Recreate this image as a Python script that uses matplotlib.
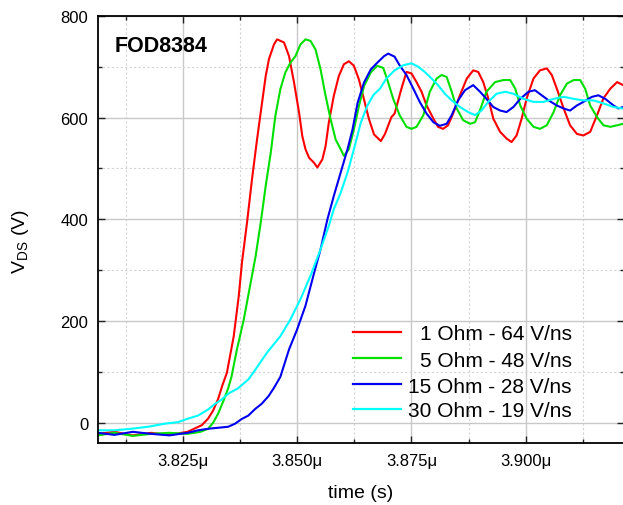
import matplotlib
matplotlib.use("Agg")
import matplotlib.pyplot as plt
from matplotlib.ticker import MultipleLocator, FuncFormatter

plt.rcParams['font.family'] = ['Liberation Sans', 'DejaVu Sans']
plt.rcParams['mathtext.fontset'] = 'custom'
plt.rcParams['mathtext.rm'] = 'Liberation Sans'
plt.rcParams['mathtext.it'] = 'Liberation Sans:italic'

# Drain-source voltage during turn-off, time in microseconds, voltage in volts
t_red = [3.8064, 3.810, 3.814, 3.818, 3.822, 3.826, 3.8291, 3.8305, 3.8316, 3.8327,
         3.8336, 3.8346, 3.8361, 3.8372, 3.8379, 3.8390, 3.8401, 3.8412, 3.8420, 3.8431,
         3.8438, 3.8449, 3.8456, 3.8471, 3.8482, 3.8493, 3.8504, 3.8511, 3.8518, 3.8526,
         3.8537, 3.8544, 3.8555, 3.8562, 3.8569, 3.8580, 3.8591, 3.8602, 3.8613, 3.8624,
         3.8635, 3.8646, 3.8657, 3.8668, 3.8683, 3.8692, 3.8706, 3.8713, 3.8728, 3.8739,
         3.8750, 3.8761, 3.8772, 3.8783, 3.8798, 3.8808, 3.8819, 3.8830, 3.8841, 3.8856,
         3.8871, 3.8885, 3.8896, 3.8907, 3.8918, 3.8929, 3.8944, 3.8958, 3.8969, 3.8980,
         3.8991, 3.9002, 3.9017, 3.9031, 3.9046, 3.9057, 3.9068, 3.9083, 3.9097, 3.9112,
         3.9126, 3.9141, 3.9156, 3.9170, 3.9185, 3.9200, 3.9213]
v_red = [-22, -18, -25, -20, -24, -18, -5, 8, 24, 47,
         73, 98, 170, 249, 315, 393, 479, 557, 610, 682,
         715, 744, 754, 748, 721, 669, 610, 564, 538, 521,
         511, 502, 518, 544, 590, 643, 682, 705, 711, 702,
         675, 636, 597, 567, 554, 568, 601, 608, 657, 690,
         687, 670, 651, 624, 598, 582, 578, 585, 608, 644,
         677, 693, 690, 670, 638, 598, 572, 559, 552, 565,
         598, 638, 677, 693, 697, 684, 657, 618, 585, 568,
         565, 572, 605, 638, 657, 670, 664]

t_green = [3.8064, 3.810, 3.814, 3.818, 3.822, 3.826, 3.8288, 3.8305, 3.8316, 3.8327,
           3.8339, 3.8349, 3.8356, 3.8368, 3.8383, 3.8398, 3.8409, 3.8420, 3.8431, 3.8442,
           3.8452, 3.8463, 3.8474, 3.8485, 3.8496, 3.8507, 3.8518, 3.8529, 3.8540, 3.8551,
           3.8562, 3.8573, 3.8584, 3.8595, 3.8602, 3.8613, 3.8624, 3.8635, 3.8646, 3.8661,
           3.8675, 3.8688, 3.8697, 3.8710, 3.8724, 3.8739, 3.8750, 3.8761, 3.8776, 3.8790,
           3.8805, 3.8816, 3.8827, 3.8838, 3.8849, 3.8863, 3.8878, 3.8889, 3.8900, 3.8914,
           3.8933, 3.8951, 3.8966, 3.8977, 3.8988, 3.9002, 3.9017, 3.9031, 3.9046, 3.9061,
           3.9075, 3.9090, 3.9105, 3.9119, 3.9130, 3.9141, 3.9156, 3.9170, 3.9185, 3.9200,
           3.9213]
v_green = [-25, -20, -26, -22, -20, -22, -18, -12, 0, 18,
           44, 68, 90, 144, 203, 275, 328, 393, 466, 531,
           603, 656, 689, 708, 721, 744, 754, 751, 734, 695,
           643, 597, 557, 538, 525, 538, 577, 623, 662, 689,
           702, 698, 675, 637, 605, 582, 578, 582, 605, 651,
           677, 684, 680, 651, 618, 595, 588, 591, 615, 651,
           670, 674, 674, 657, 624, 598, 582, 578, 585, 611,
           644, 667, 674, 674, 657, 624, 601, 585, 582, 585,
           588]

t_blue = [3.8064, 3.810, 3.814, 3.818, 3.822, 3.826, 3.8283, 3.8305, 3.8327, 3.8349,
          3.8364, 3.8378, 3.8393, 3.8408, 3.8422, 3.8437, 3.8448, 3.8463, 3.8482, 3.8500,
          3.8518, 3.8537, 3.8551, 3.8566, 3.8580, 3.8595, 3.8610, 3.8621, 3.8632, 3.8646,
          3.8661, 3.8675, 3.8690, 3.8699, 3.8713, 3.8724, 3.8739, 3.8754, 3.8768, 3.8783,
          3.8798, 3.8812, 3.8827, 3.8838, 3.8852, 3.8867, 3.8885, 3.8900, 3.8914, 3.8929,
          3.8944, 3.8958, 3.8973, 3.8988, 3.9006, 3.9020, 3.9035, 3.9050, 3.9068, 3.9083,
          3.9097, 3.9112, 3.9126, 3.9145, 3.9159, 3.9174, 3.9192, 3.9203, 3.9213]
v_blue = [-20, -24, -18, -22, -25, -20, -15, -12, -10, -8,
          -2, 7, 14, 27, 37, 52, 67, 90, 144, 184,
          230, 295, 341, 400, 446, 492, 538, 577, 629, 669,
          695, 708, 721, 726, 720, 703, 684, 657, 631, 608,
          591, 584, 588, 605, 634, 654, 664, 651, 637, 621,
          614, 611, 621, 637, 651, 654, 644, 634, 624, 618,
          614, 624, 631, 641, 644, 637, 624, 618, 621]

t_cyan = [3.8064, 3.8100, 3.8137, 3.8174, 3.8210, 3.8239, 3.8261, 3.8283, 3.8305, 3.8320,
          3.8334, 3.8349, 3.8371, 3.8393, 3.8405, 3.8434, 3.8463, 3.8485, 3.8507, 3.8529,
          3.8551, 3.8569, 3.8580, 3.8595, 3.8610, 3.8624, 3.8639, 3.8653, 3.8667, 3.8681,
          3.8695, 3.8713, 3.8732, 3.8750, 3.8765, 3.8779, 3.8794, 3.8808, 3.8823, 3.8838,
          3.8856, 3.8874, 3.8889, 3.8903, 3.8918, 3.8936, 3.8955, 3.8973, 3.8995, 3.9017,
          3.9039, 3.9061, 3.9083, 3.9105, 3.9126, 3.9148, 3.9170, 3.9192, 3.9213]
v_cyan = [-15, -15, -12, -8, -2, 1, 8, 14, 26, 37,
          45, 57, 68, 85, 100, 138, 170, 203, 243, 289,
          341, 387, 420, 452, 492, 538, 590, 623, 645, 657,
          677, 693, 703, 707, 700, 690, 677, 664, 647, 634,
          621, 611, 605, 614, 631, 647, 651, 647, 637, 631,
          631, 637, 641, 637, 634, 634, 628, 621, 618]

labels = ["1 Ohm - 64 V/ns", "5 Ohm - 48 V/ns", "15 Ohm - 28 V/ns", "30 Ohm - 19 V/ns"]
colors = ["#ff0000", "#00e000", "#0000f0", "#00ffff"]
series = [(t_red, v_red), (t_green, v_green), (t_blue, v_blue), (t_cyan, v_cyan)]

W, H = 623, 506
fig = plt.figure(figsize=(W / 100, H / 100), dpi=100)
ax_l, ax_r, ax_t, ax_b = 98, 624, 17, 444
ax = fig.add_axes([ax_l / W, 1 - ax_b / H, (ax_r - ax_l) / W, (ax_b - ax_t) / H])

for (t, v), c in zip(series, colors):
    ax.plot(t, v, color=c, lw=1.5, solid_joinstyle='round')

ax.set_xlim(3.8064, 3.9215)
ax.set_ylim(-40, 800)

ax.xaxis.set_major_locator(MultipleLocator(0.025))
ax.xaxis.set_minor_locator(MultipleLocator(0.0125))
ax.yaxis.set_major_locator(MultipleLocator(200))
ax.yaxis.set_minor_locator(MultipleLocator(100))
ax.xaxis.set_major_formatter(FuncFormatter(lambda v, p: f"{v:.3f}\u03bc"))

ax.grid(True, which='major', color='#c8c8c8', lw=1.0, ls='-')
ax.grid(True, which='minor', color='#d4d4d4', lw=0.8, ls=(0, (2, 2)))
ax.set_axisbelow(True)

ax.tick_params(which='both', direction='in', top=True, right=True, width=1.0, color='#222222')
ax.tick_params(which='major', length=5, labelsize=12, pad=7)
ax.tick_params(which='minor', length=3)
for s in ax.spines.values():
    s.set_linewidth(1.3)

ax.set_xlabel("time (s)", fontsize=14)
ax.xaxis.set_label_coords(0.5, -0.095)
ax.set_ylabel(r"V$_{\mathregular{DS}}$ (V)", fontsize=14)
ax.yaxis.set_label_coords(-0.128, 0.475)

ax.text(0.032, 0.932, "FOD8384", transform=ax.transAxes, fontsize=15.5,
        fontweight='bold', ha='left', va='center')

# legend: keys left-aligned, labels right-aligned
key_x0, key_x1, text_x = 0.485, 0.576, 0.901
rows = [0.260, 0.199, 0.138, 0.080]
for lab, c, y in zip(labels, colors, rows):
    ax.plot([key_x0, key_x1], [y, y], transform=ax.transAxes, color=c, lw=1.6)
    ax.text(text_x, y, lab, transform=ax.transAxes, fontsize=15, ha='right',
            va='center_baseline')

fig.savefig("out.png", dpi=100)
